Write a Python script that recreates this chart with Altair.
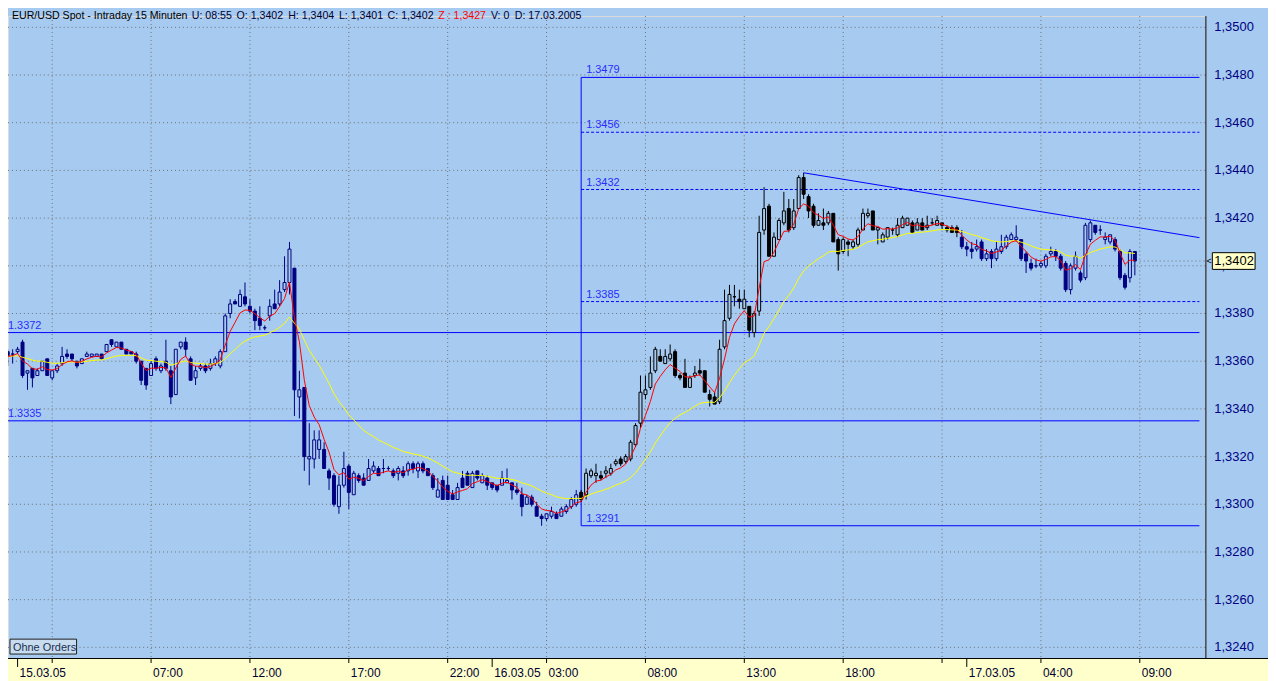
import altair as alt
import pandas as pd

# ---------------- data ----------------
# EUR/USD 15-minute bars, bar 0 = 14.03.05 23:45, one bar per 15 minutes.
# Quotes are stored in pips above 1.3300 (price = 1.3300 + pips / 10000).
BASE = 1.3300
OPEN_PIPS = [64, 63, 64, 68, 55, 57, 54, 56, 61, 53,
             56, 59, 63, 63, 60, 59, 62, 62, 62, 63,
             64, 69, 66, 68, 65, 64, 63, 60, 57, 54,
             61, 56, 60, 56, 46, 66, 68, 61, 53, 57,
             58, 57, 59, 58, 64, 80, 85, 83, 87, 83,
             81, 78, 74, 79, 84, 84, 90, 93, 99, 45,
             49, 19, 19, 23, 23, 14, 12, -1, 8, 16,
             4, 12, 11, 10, 14, 15, 15, 15, 14, 13,
             14, 14, 17, 14, 17, 15, 12, 3, 10, 8,
             4, 2, 11, 13, 7, 14, 9, 11, 9, 8,
             8, 9, 9, 6, 4, 0, 3, -1, -5, -6,
             -5, -4, -5, -3, -1, 0, 5, 4, 12, 12,
             12, 13, 13, 17, 19, 18, 19, 25, 34, 46,
             49, 56, 62, 59, 61, 64, 54, 55, 49, 54,
             56, 56, 46, 45, 43, 66, 78, 87, 86, 82,
             83, 72, 81, 115, 125, 104, 111, 118, 124, 116,
             124, 137, 129, 125, 117, 118, 118, 122, 111, 106,
             110, 108, 109, 115, 121, 123, 115, 110, 112, 115,
             113, 116, 117, 118, 115, 118, 116, 118, 117, 118,
             116, 116, 116, 112, 108, 107, 107, 110, 103, 106,
             103, 106, 108, 111, 111, 111, 105, 101, 100, 100,
             100, 105, 106, 104, 101, 90, 99, 97, 95, 111,
             117, 115, 111, 110, 111, 106, 96, 95, 106]
HIGH_PIPS = [65, 65, 66, 69, 56, 57, 57, 60, 61, 56,
             59, 66, 65, 63, 60, 61, 64, 63, 63, 63,
             67, 69, 68, 68, 65, 64, 64, 60, 57, 60,
             62, 59, 69, 58, 65, 68, 70, 62, 58, 59,
             59, 61, 62, 65, 80, 86, 86, 90, 93, 86,
             82, 83, 75, 86, 90, 94, 104, 110, 99, 56,
             49, 34, 31, 31, 26, 15, 13, 12, 22, 17,
             14, 13, 13, 19, 18, 16, 19, 16, 15, 16,
             16, 18, 18, 18, 18, 15, 13, 11, 12, 12,
             6, 9, 14, 14, 14, 14, 13, 12, 9, 8,
             14, 15, 9, 9, 7, 4, 4, 1, -4, -4,
             -1, -3, -1, 0, 3, 6, 6, 15, 15, 17,
             14, 16, 17, 19, 20, 21, 27, 34, 54, 54,
             62, 66, 65, 65, 67, 65, 55, 61, 54, 58,
             61, 56, 48, 47, 69, 90, 92, 92, 90, 90,
             83, 81, 121, 133, 126, 114, 120, 131, 128, 128,
             138, 139, 130, 126, 122, 124, 123, 122, 112, 112,
             111, 111, 116, 124, 124, 123, 116, 114, 116, 116,
             120, 121, 120, 119, 120, 120, 121, 120, 121, 118,
             117, 117, 117, 115, 110, 110, 111, 111, 107, 107,
             110, 113, 113, 114, 117, 111, 106, 103, 103, 102,
             105, 108, 107, 105, 102, 101, 106, 98, 118, 119,
             117, 117, 114, 113, 112, 107, 97, 107, 106]
LOW_PIPS = [58, 59, 63, 53, 48, 49, 54, 56, 54, 52,
            55, 58, 61, 60, 57, 59, 62, 62, 62, 61,
            64, 66, 66, 65, 63, 63, 59, 50, 48, 54,
            56, 55, 56, 42, 46, 65, 62, 52, 50, 56,
            55, 56, 58, 57, 64, 78, 84, 83, 83, 80,
            73, 73, 73, 77, 82, 83, 89, 88, 37, 36,
            14, 8, 15, 19, 15, 6, -1, -4, 7, -2,
            4, 9, 8, 10, 13, 12, 13, 14, 11, 10,
            11, 12, 13, 11, 13, 12, 6, 3, 2, 2,
            2, 2, 7, 8, 7, 10, 9, 6, 6, 5,
            8, 9, 2, 4, -5, 0, -1, -5, -9, -7,
            -6, -6, -5, -4, -2, -1, 1, 2, 11, 9,
            10, 11, 12, 16, 16, 17, 18, 24, 32, 44,
            48, 55, 60, 59, 60, 53, 52, 49, 49, 53,
            54, 47, 41, 42, 42, 65, 77, 83, 82, 82,
            70, 70, 79, 113, 104, 104, 111, 117, 114, 115,
            124, 128, 120, 116, 117, 115, 117, 110, 98, 105,
            104, 107, 108, 115, 120, 115, 109, 110, 111, 113,
            112, 116, 117, 114, 115, 115, 115, 117, 117, 115,
            114, 114, 112, 107, 104, 103, 106, 102, 102, 99,
            102, 105, 107, 111, 110, 102, 97, 98, 99, 99,
            99, 104, 102, 98, 89, 88, 98, 93, 94, 110,
            113, 113, 109, 109, 106, 94, 90, 93, 96]
CLOSE_PIPS = [62, 63, 65, 54, 56, 53, 56, 60, 54, 56,
              58, 62, 62, 61, 58, 61, 63, 63, 63, 61,
              67, 67, 68, 65, 63, 63, 60, 52, 50, 59,
              57, 58, 57, 45, 65, 68, 65, 52, 56, 58,
              56, 59, 61, 64, 79, 84, 84, 88, 84, 81,
              77, 75, 74, 83, 82, 89, 93, 107, 48, 48,
              20, 20, 27, 27, 15, 11, 0, 8, 15, 5,
              13, 10, 8, 15, 16, 12, 15, 15, 12, 15,
              12, 17, 15, 17, 14, 12, 7, 6, 2, 2,
              2, 7, 7, 8, 13, 11, 12, 8, 7, 6,
              11, 10, 6, 5, -1, 3, 0, -5, -6, -4,
              -3, -6, -2, -1, 2, 4, 2, 13, 14, 13,
              11, 14, 15, 18, 17, 20, 26, 33, 47, 48,
              55, 65, 60, 62, 63, 54, 53, 49, 53, 55,
              55, 47, 44, 42, 65, 77, 88, 87, 85, 86,
              73, 80, 114, 124, 104, 112, 119, 123, 115, 123,
              137, 130, 123, 117, 119, 117, 122, 110, 105, 111,
              109, 110, 115, 122, 122, 115, 116, 113, 116, 115,
              117, 120, 120, 114, 118, 115, 117, 118, 119, 117,
              115, 114, 114, 108, 107, 106, 108, 103, 105, 103,
              107, 108, 112, 113, 112, 103, 102, 99, 100, 101,
              104, 106, 104, 99, 90, 100, 104, 94, 117, 118,
              114, 115, 112, 113, 107, 95, 91, 106, 102]

# bars drawn in black (the rest in navy)
BLACK_FIRST, BLACK_LAST = 116, 192

# horizontal levels starting at the vertical marker (bar 116)
MARK_BAR = 116
LEVEL_END = 241.06
LEVELS = [1.3479, 1.3456, 1.3432, 1.3385, 1.3291]
LEVEL_DASHED = [False, True, True, True, False]
WIDE_LEVELS = [1.3372, 1.3335]

# trend line
TREND_BARS = [161, 241.06]
TREND_PRICES = [1.3439, 1.34118]

# axes
PRICE_TICKS = [1.3240, 1.3260, 1.3280, 1.3300, 1.3320, 1.3340, 1.3360,
               1.3380, 1.3400, 1.3420, 1.3440, 1.3460, 1.3480, 1.3500]
PRICE_LABELS = ["1,3240", "1,3260", "1,3280", "1,3300", "1,3320", "1,3340", "1,3360",
                "1,3380", "1,3400", "1,3420", "1,3440", "1,3460", "1,3480", "1,3500"]
TIME_TICK_BARS = [2, 9, 29, 49, 69, 89, 98, 109, 129, 149, 169, 189, 194, 209, 229]
TIME_TICK_LABELS = ["15.03.05", "", "07:00", "12:00", "17:00", "22:00", "16.03.05",
                    "03:00", "08:00", "13:00", "18:00", "", "17.03.05", "04:00", "09:00"]
TIME_TICK_IS_DATE = [True, False, False, False, False, False, True,
                     False, False, False, False, False, True, False, False]
GRID_BARS = [9, 29, 49, 69, 89, 109, 129, 149, 169, 189, 209, 229]

TITLE_PARTS = ["EUR/USD Spot - Intraday 15 Minuten", "U: 08:55", "O: 1,3402", "H: 1,3404",
               "L: 1,3401", "C: 1,3402", "Z : 1,3427", "V: 0", "D: 17.03.2005"]
TITLE_COLORS = ["#000000", "#000033", "#000033", "#000033", "#000033", "#000033",
                "#FF0000", "#000033", "#000033"]
TITLE_X = [4, 185, 230, 282, 333, 382, 433, 486, 510]

LAST_PRICE_LABEL = "1,3402"
LAST_PRICE = 1.3402
BOX_HALF = 0.00035

# ---------------- styling ----------------
BG = "#A6CAF0"
STRIP = "#FFFFCC"
NAVY = "#000080"
BLUE = "#0000FF"
LABEL_BLUE = "#2A2AFF"
GRID = "#707070"
FONT = "Liberation Sans"

W, H = 1205, 646
X_DOM = [0.06, 242.27]
Y_DOM = [1.323554, 1.350471]
xs = alt.Scale(domain=X_DOM, nice=False, zero=False, padding=0)
ys = alt.Scale(domain=Y_DOM, nice=False, zero=False, padding=0)

# ---------------- frames ----------------
n = len(CLOSE_PIPS)
bars = pd.DataFrame({
    "i": list(range(n)),
    "o": [BASE + v / 10000 for v in OPEN_PIPS],
    "h": [BASE + v / 10000 for v in HIGH_PIPS],
    "l": [BASE + v / 10000 for v in LOW_PIPS],
    "c": [BASE + v / 10000 for v in CLOSE_PIPS],
})
bars["col"] = ["#000000" if BLACK_FIRST <= i <= BLACK_LAST else NAVY for i in bars["i"]]
bars["fill"] = [col if c < o else BG for col, o, c in zip(bars["col"], bars["o"], bars["c"])]
# indicator lines of the chart: exponential averages of the closes
bars["fast"] = bars["c"].ewm(span=5, adjust=False).mean()
bars["slow"] = bars["c"].ewm(span=22, adjust=False).mean()

one = pd.DataFrame({"a": [0]})
X = lambda f: alt.X(f, scale=xs, axis=None)
Y = lambda f: alt.Y(f, scale=ys, axis=None)

layers = []

# bottom time strip
layers.append(alt.Chart(one).mark_rect(color=STRIP).encode(
    x=alt.value(-1), x2=alt.value(1270), y=alt.value(H), y2=alt.value(H + 30)))
layers.append(alt.Chart(one).mark_rule(color="#000000", strokeWidth=1).encode(
    x=alt.value(-1), x2=alt.value(1270), y=alt.value(H + 0.5)))

# horizontal dotted grid
grid_h = pd.DataFrame({"p": PRICE_TICKS, "lab": PRICE_LABELS})
layers.append(alt.Chart(grid_h).mark_rule(color=GRID, strokeDash=[1, 3], strokeWidth=1).encode(
    y=Y("p:Q"), x=alt.value(0), x2=alt.value(W)))

# vertical dotted grid
grid_v = pd.DataFrame({"g": GRID_BARS})
layers.append(alt.Chart(grid_v).mark_rule(color=GRID, strokeDash=[1, 3], strokeWidth=1).encode(
    x=X("g:Q"), y=alt.value(0), y2=alt.value(H)))

# right price axis: line + labels
layers.append(alt.Chart(one).mark_rule(color="#000000", strokeWidth=1).encode(
    x=alt.value(W + 0.5), y=alt.value(0), y2=alt.value(H)))
layers.append(alt.Chart(grid_h).mark_text(align="left", baseline="middle", font=FONT,
                                          fontSize=13, color=NAVY).encode(
    x=alt.value(W + 9), y=Y("p:Q"), text="lab:N"))

# time axis ticks and labels
tt = pd.DataFrame({"t": TIME_TICK_BARS, "lab": TIME_TICK_LABELS, "date": TIME_TICK_IS_DATE})
layers.append(alt.Chart(tt).transform_filter("!datum.date").mark_rule(color="#000000").encode(
    x=X("t:Q"), y=alt.value(H), y2=alt.value(H + 5)))
layers.append(alt.Chart(tt).transform_filter("datum.date").mark_rule(color="#000000").encode(
    x=X("t:Q"), y=alt.value(H), y2=alt.value(H + 9)))
layers.append(alt.Chart(tt).mark_text(align="left", baseline="alphabetic", dx=2,
                                      font=FONT, fontSize=12, color="#000030").encode(
    x=X("t:Q"), y=alt.value(H + 19), text="lab:N"))

# wide levels
wide = pd.DataFrame({"p": WIDE_LEVELS, "x0": [X_DOM[0]] * 2, "x1": [LEVEL_END] * 2,
                     "lab": [f"{v:.4f}" for v in WIDE_LEVELS]})
layers.append(alt.Chart(wide).mark_rule(color=BLUE, strokeWidth=1).encode(
    x=X("x0:Q"), x2="x1:Q", y=Y("p:Q")))
layers.append(alt.Chart(wide).mark_text(align="left", baseline="alphabetic", dx=0, dy=-4,
                                        font=FONT, fontSize=11, color=LABEL_BLUE).encode(
    x=X("x0:Q"), y=Y("p:Q"), text="lab:N"))

# marker levels
lv = pd.DataFrame({"p": LEVELS, "dashed": LEVEL_DASHED, "x0": [MARK_BAR] * len(LEVELS),
                   "x1": [LEVEL_END] * len(LEVELS), "lab": [f"{v:.4f}" for v in LEVELS]})
layers.append(alt.Chart(lv).transform_filter("!datum.dashed").mark_rule(color=BLUE, strokeWidth=1).encode(
    x=X("x0:Q"), x2="x1:Q", y=Y("p:Q")))
layers.append(alt.Chart(lv).transform_filter("datum.dashed").mark_rule(
    color=BLUE, strokeWidth=1, strokeDash=[3, 2]).encode(x=X("x0:Q"), x2="x1:Q", y=Y("p:Q")))
layers.append(alt.Chart(lv).mark_text(align="left", baseline="alphabetic", dx=5, dy=-4,
                                      font=FONT, fontSize=11, color=LABEL_BLUE).encode(
    x=X("x0:Q"), y=Y("p:Q"), text="lab:N"))
vline = pd.DataFrame({"x": [MARK_BAR], "p0": [min(LEVELS)], "p1": [max(LEVELS)]})
layers.append(alt.Chart(vline).mark_rule(color=BLUE, strokeWidth=1).encode(
    x=X("x:Q"), y=Y("p0:Q"), y2="p1:Q"))

# candles: wicks then bodies
layers.append(alt.Chart(bars).mark_rule(strokeWidth=1).encode(
    x=X("i:Q"), y=Y("l:Q"), y2="h:Q", color=alt.Color("col:N", scale=None)))
bodies = bars.assign(top=bars[["o", "c"]].max(axis=1), bot=bars[["o", "c"]].min(axis=1))
layers.append(alt.Chart(bodies).mark_bar(size=3, strokeWidth=1).encode(
    x=X("i:Q"), y=Y("top:Q"), y2="bot:Q",
    fill=alt.Fill("fill:N", scale=None), stroke=alt.Stroke("col:N", scale=None)))

# averages
layers.append(alt.Chart(bars).mark_line(color="#FFFF00", strokeWidth=1).encode(
    x=X("i:Q"), y=Y("slow:Q")))
layers.append(alt.Chart(bars).mark_line(color="#FF0000", strokeWidth=1).encode(
    x=X("i:Q"), y=Y("fast:Q")))

# trend line
trend = pd.DataFrame({"x": TREND_BARS, "p": TREND_PRICES})
layers.append(alt.Chart(trend).mark_line(color=BLUE, strokeWidth=1).encode(
    x=X("x:Q"), y=Y("p:Q")))

# last price: dotted guide, marker box on the axis
lp = pd.DataFrame({"p": [LAST_PRICE], "p0": [LAST_PRICE - BOX_HALF], "p1": [LAST_PRICE + BOX_HALF],
                   "x0": [n], "lab": [LAST_PRICE_LABEL]})
layers.append(alt.Chart(lp).mark_rule(color=GRID, strokeDash=[1, 3], strokeWidth=1).encode(
    x=X("x0:Q"), x2=alt.value(W), y=Y("p:Q")))
layers.append(alt.Chart(lp).mark_rect(fill="#FFFFC8", stroke="#000000", strokeWidth=1).encode(
    x=alt.value(W + 7), x2=alt.value(W + 50), y=Y("p0:Q"), y2="p1:Q"))
layers.append(alt.Chart(lp).mark_text(align="left", baseline="middle", font=FONT, fontSize=13,
                                      color="#000000").encode(
    x=alt.value(W + 9), y=Y("p:Q"), text="lab:N"))
layers.append(alt.Chart(lp).mark_text(align="left", baseline="middle", font=FONT, fontSize=9,
                                      color="#000000").encode(
    x=alt.value(W + 1), y=Y("p:Q"), text=alt.value("<")))

# "Ohne Orders" box
layers.append(alt.Chart(one).mark_rect(fill="#C8DCF0", stroke="#202020", strokeWidth=1).encode(
    x=alt.value(2), x2=alt.value(69), y=alt.value(627), y2=alt.value(642)))
layers.append(alt.Chart(one).mark_text(align="left", baseline="alphabetic", font=FONT,
                                       fontSize=11, color="#1A3050").encode(
    x=alt.value(5), y=alt.value(639), text=alt.value("Ohne Orders")))

# title line
for t, c, x in zip(TITLE_PARTS, TITLE_COLORS, TITLE_X):
    layers.append(alt.Chart(one).mark_text(align="left", baseline="alphabetic", font=FONT,
                                           fontSize=10.67, color=c).encode(
        x=alt.value(x), y=alt.value(3), text=alt.value(t)))

chart = alt.layer(*layers).properties(
    width=W, height=H,
    padding={"left": 0, "top": 6, "right": 63, "bottom": 21},
    autosize=alt.AutoSizeParams(type="none"),
    background=BG,
).configure_view(stroke=None).configure(font=FONT)

chart.save("out.html", embed_options={"renderer": "svg", "actions": False})
